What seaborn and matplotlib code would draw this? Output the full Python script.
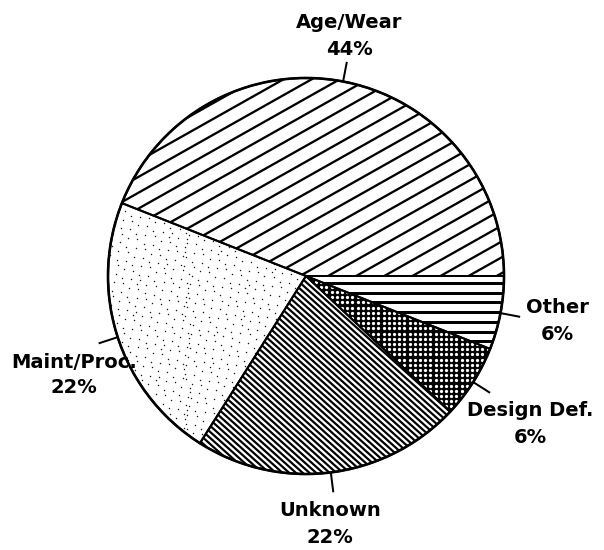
import numpy as np
import matplotlib
matplotlib.use("Agg")
import matplotlib.pyplot as plt
import seaborn as sns
from matplotlib.collections import LineCollection
from matplotlib.patches import Wedge, Circle

# Failure causes and their shares (percent)
causes = ["Age/Wear", "Maint/Proc.", "Unknown", "Design Def.", "Other"]
shares = [44, 22, 22, 6, 6]
pct_labels = [f"{v}%" for v in shares]

sns.set_theme(style="white")
plt.rcParams["font.family"] = ["DejaVu Sans"]

W, H = 604, 550
fig = plt.figure(figsize=(W / 100, H / 100), dpi=100)
ax = fig.add_axes([0, 0, 1, 1])

# pie geometry in pixel-like data units
cx, cy, R = 306, 274, 198
PX = 0.72  # points per pixel at 100 dpi

wedges, _ = ax.pie(shares, startangle=0, counterclock=True, radius=R,
                   center=(cx, cy), colors=["white"] * len(shares),
                   wedgeprops=dict(linewidth=0, edgecolor="none"))
ax.set_xlim(0, W)
ax.set_ylim(0, H)
ax.set_aspect("equal")
ax.axis("off")


def stripe_lines(angle_deg, spacing, width_px, phase=0.0):
    a = np.deg2rad(angle_deg)
    d = np.array([np.cos(a), np.sin(a)])
    n = np.array([-np.sin(a), np.cos(a)])
    k = int(np.ceil(1.3 * R / spacing))
    offs = phase + spacing * np.arange(-k, k + 1)
    L = 1.3 * R
    segs = [[(cx + o * n[0] - L * d[0], cy + o * n[1] - L * d[1]),
             (cx + o * n[0] + L * d[0], cy + o * n[1] + L * d[1])] for o in offs]
    return LineCollection(segs, colors="black", linewidths=width_px * PX,
                          capstyle="butt", zorder=2)


def fill_pattern(wedge, style):
    if style == "diag_wide":
        lc = stripe_lines(29.4, 13.8, 2.3, phase=3.0)
        ax.add_collection(lc)
        lc.set_clip_path(wedge)
    elif style == "diag_dense":
        lc = stripe_lines(-42, 4.5, 2.2)
        ax.add_collection(lc)
        lc.set_clip_path(wedge)
    elif style == "horizontal":
        lc = stripe_lines(0, 9.7, 3.0, phase=-7.0)
        ax.add_collection(lc)
        lc.set_clip_path(wedge)
    elif style == "dots_on_black":
        wedge.set_facecolor("black")
        g = np.arange(-R, R + 1, 5.2)
        gx, gy = np.meshgrid(cx + g, cy + g)
        sc = ax.scatter(gx.ravel(), gy.ravel(), s=5.5, c="white",
                        linewidths=0, zorder=2)
        sc.set_clip_path(wedge)
    elif style == "stipple":
        # two interleaved R2 low-discrepancy sequences for a speckled fill
        g2 = 1.32471795724474602596
        n = np.arange(1, 2600)
        u = (0.5 + n / g2) % 1.0
        v = (0.5 + n / g2 ** 2) % 1.0
        du = ((0.3 + n * 0.7548776662) % 1.0 - 0.5) * 6.0
        dv = ((0.7 + n * 0.5698402910) % 1.0 - 0.5) * 6.0
        sc = ax.scatter(cx - R + 2 * R * u + du, cy - R + 2 * R * v + dv,
                        s=1.1, c="#1a1a1a", linewidths=0, zorder=2)
        sc.set_clip_path(wedge)


styles = {"Age/Wear": "diag_wide", "Maint/Proc.": "stipple",
          "Unknown": "diag_dense", "Design Def.": "dots_on_black",
          "Other": "horizontal"}
for w, name in zip(wedges, causes):
    fill_pattern(w, styles[name])

# slice borders and outer rim
for w in wedges:
    ax.add_patch(Wedge((cx, cy), R, w.theta1, w.theta2, fill=False,
                       ec="black", lw=2.0 * PX, zorder=3))
ax.add_patch(Circle((cx, cy), R, fill=False, ec="black", lw=2.6 * PX, zorder=4))

# leader lines and labels (x centre, first and second baseline, from top)
label_pos = {"Age/Wear": (349, 27.6, 55.0),
             "Maint/Proc.": (74, 367.5, 393.0),
             "Unknown": (330, 516.5, 543.0),
             "Design Def.": (530, 416.5, 443.0),
             "Other": (557, 312.6, 340.0)}
for w, name, pct in zip(wedges, causes, pct_labels):
    mid = np.deg2rad((w.theta1 + w.theta2) / 2)
    ax.plot([cx + R * np.cos(mid), cx + (R + 20) * np.cos(mid)],
            [cy + R * np.sin(mid), cy + (R + 20) * np.sin(mid)],
            color="black", lw=2.0 * PX, solid_capstyle="butt", zorder=4)
    x, b1, b2 = label_pos[name]
    ax.text(x, H - b1, name, ha="center", va="baseline", fontsize=14,
            fontweight="bold", color="black", zorder=5)
    ax.text(x, H - b2, pct, ha="center", va="baseline", fontsize=14,
            fontweight="bold", color="black", zorder=5)

fig.savefig("out.png", dpi=100, facecolor="white")
